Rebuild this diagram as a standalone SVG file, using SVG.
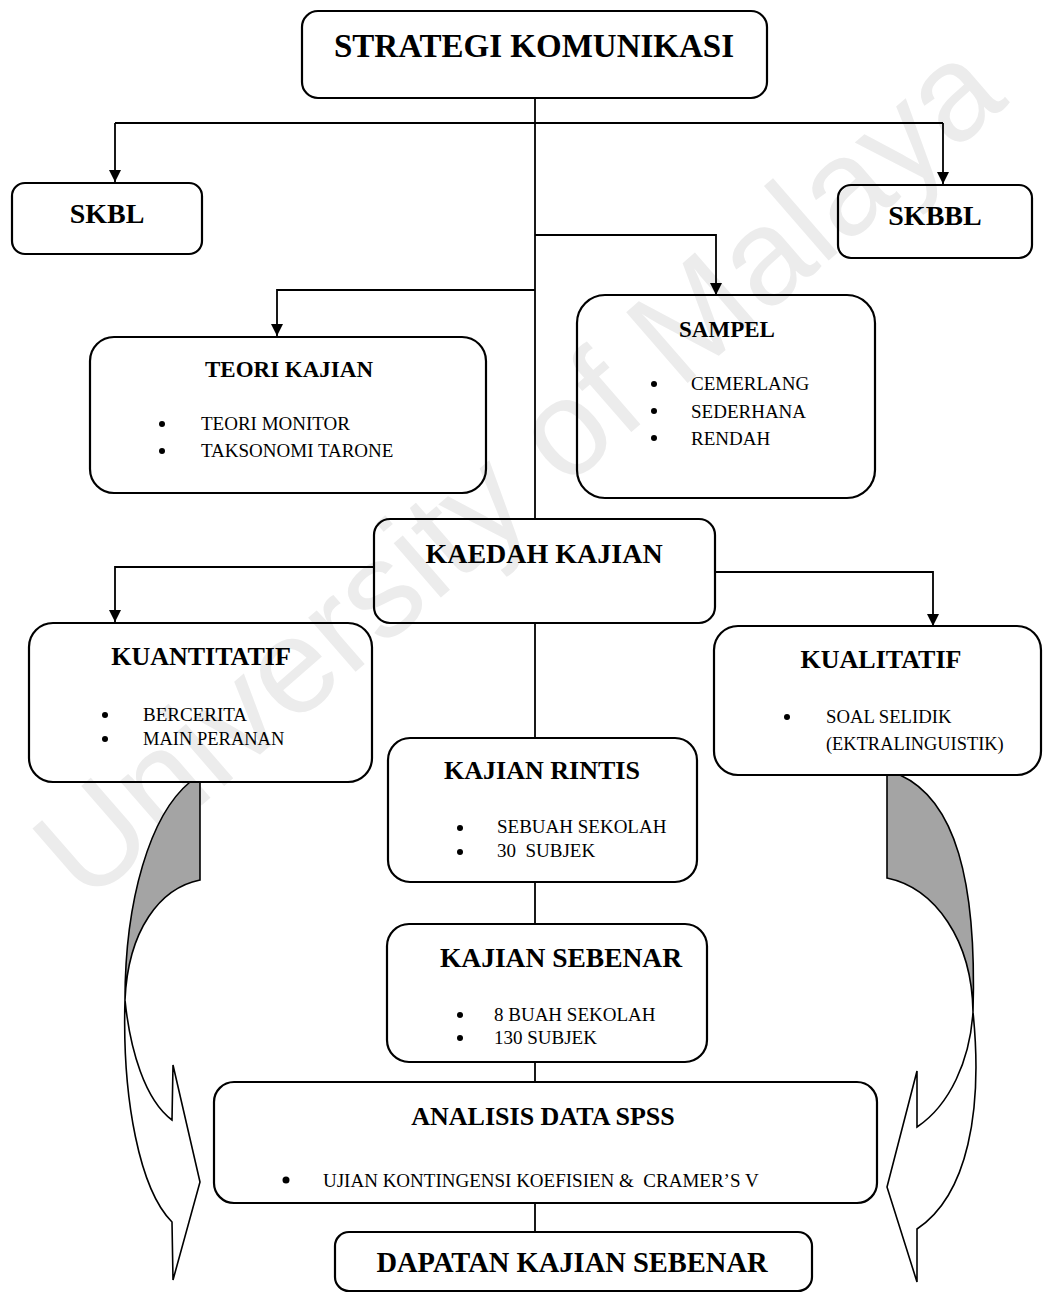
<svg xmlns="http://www.w3.org/2000/svg" width="1043" height="1295" viewBox="0 0 1043 1295">
<style>
.box{fill:none;stroke:#000;stroke-width:2.2}
.ln{fill:none;stroke:#000;stroke-width:1.8}
.t{font-family:"Liberation Serif","Times New Roman",serif;font-weight:bold;fill:#000;text-anchor:middle}
.b{font-family:"Liberation Serif","Times New Roman",serif;fill:#000}
.dot{fill:#000}
.wm{font-family:"Liberation Sans",Arial,sans-serif;font-size:136px;fill:#ececec}
.shade{fill:#a4a4a4;stroke:#000;stroke-width:1.6}
.band{fill:#fff;stroke:#000;stroke-width:1.6}
</style>
<defs>
<marker id="ah" viewBox="0 0 10 10" refX="10" refY="5" markerWidth="12" markerHeight="12" markerUnits="userSpaceOnUse" orient="auto">
<path d="M0,0 L10,5 L0,10 Z" fill="#000"/>
</marker>
</defs>
<rect width="1043" height="1295" fill="#fff"/>
<text class="wm" transform="translate(86,906) rotate(-41)">University of Malaya</text>

<g id="connectors">
<path class="ln" d="M535,98 V519"/>
<path class="ln" d="M535,623 V738"/>
<path class="ln" d="M535,882 V924"/>
<path class="ln" d="M535,1062 V1082"/>
<path class="ln" d="M535,1203 V1232"/>
<path class="ln" d="M115,123 H943"/>
<path class="ln" d="M115,123 V182" marker-end="url(#ah)"/>
<path class="ln" d="M943,123 V184" marker-end="url(#ah)"/>
<path class="ln" d="M535,235 H716 V295" marker-end="url(#ah)"/>
<path class="ln" d="M535,290 H277 V336" marker-end="url(#ah)"/>
<path class="ln" d="M374,567 H115 V622" marker-end="url(#ah)"/>
<path class="ln" d="M715,572 H933 V626" marker-end="url(#ah)"/>
</g>

<g id="arrow-left">
<path class="shade" d="M190,782 C150,815 125,900 125,1000 C128,930 160,888 200,880 L200,782 Z"/>
<path class="band" d="M125,1000 C130,1050 145,1100 172,1120 L173,1065 L200,1182 L173,1280 L172,1222 C140,1190 122,1100 125,1000 Z"/>
</g>
<g id="arrow-right">
<path class="shade" d="M887,775 L900,775 C955,800 977,880 973,1012 C972,940 935,888 887,878 Z"/>
<path class="band" d="M973,1012 C970,1060 950,1105 917,1127 L917,1071 L887,1187 L917,1282 L917,1229 C968,1195 983,1110 973,1012 Z"/>
</g>

<g id="strategi">
<rect class="box" x="302" y="11" width="465" height="87" rx="16"/>
<text class="t" x="534" y="57" font-size="33">STRATEGI KOMUNIKASI</text>
</g>
<g id="skbl">
<rect class="box" x="12" y="183" width="190" height="71" rx="13"/>
<text class="t" x="107" y="223" font-size="28">SKBL</text>
</g>
<g id="skbbl">
<rect class="box" x="838" y="185" width="194" height="73" rx="13"/>
<text class="t" x="935" y="225" font-size="28">SKBBL</text>
</g>
<g id="teori">
<rect class="box" x="90" y="337" width="396" height="156" rx="24"/>
<text class="t" x="289" y="377" font-size="23">TEORI KAJIAN</text>
<circle class="dot" cx="162" cy="424" r="3"/>
<circle class="dot" cx="162" cy="451" r="3"/>
<text class="b" x="201" y="430" font-size="19">TEORI MONITOR</text>
<text class="b" x="201" y="457" font-size="19">TAKSONOMI TARONE</text>
</g>
<g id="sampel">
<rect class="box" x="577" y="295" width="298" height="203" rx="28"/>
<text class="t" x="727" y="337" font-size="23">SAMPEL</text>
<circle class="dot" cx="654" cy="384" r="3"/>
<circle class="dot" cx="654" cy="411" r="3"/>
<circle class="dot" cx="654" cy="438" r="3"/>
<text class="b" x="691" y="390" font-size="19">CEMERLANG</text>
<text class="b" x="691" y="418" font-size="19">SEDERHANA</text>
<text class="b" x="691" y="445" font-size="19">RENDAH</text>
</g>
<g id="kaedah">
<rect class="box" x="374" y="519" width="341" height="104" rx="16"/>
<text class="t" x="544" y="563" font-size="28">KAEDAH KAJIAN</text>
</g>
<g id="kuantitatif">
<rect class="box" x="29" y="623" width="343" height="159" rx="24"/>
<text class="t" x="201" y="665" font-size="26">KUANTITATIF</text>
<circle class="dot" cx="105" cy="715" r="3"/>
<circle class="dot" cx="105" cy="739" r="3"/>
<text class="b" x="143" y="721" font-size="19">BERCERITA</text>
<text class="b" x="143" y="745" font-size="18.5">MAIN PERANAN</text>
</g>
<g id="kualitatif">
<rect class="box" x="714" y="626" width="327" height="149" rx="24"/>
<text class="t" x="881" y="668" font-size="26">KUALITATIF</text>
<circle class="dot" cx="787" cy="717" r="3"/>
<text class="b" x="826" y="723" font-size="18.7">SOAL SELIDIK</text>
<text class="b" x="826" y="750" font-size="18.4">(EKTRALINGUISTIK)</text>
</g>
<g id="rintis">
<rect class="box" x="388" y="738" width="309" height="144" rx="22"/>
<text class="t" x="542" y="779" font-size="26">KAJIAN RINTIS</text>
<circle class="dot" cx="460" cy="828" r="3"/>
<circle class="dot" cx="460" cy="852" r="3"/>
<text class="b" x="497" y="833" font-size="19">SEBUAH SEKOLAH</text>
<text class="b" x="497" y="857" font-size="19" xml:space="preserve">30  SUBJEK</text>
</g>
<g id="sebenar">
<rect class="box" x="387" y="924" width="320" height="138" rx="22"/>
<text class="t" x="561" y="967" font-size="27.5">KAJIAN SEBENAR</text>
<circle class="dot" cx="460" cy="1015" r="3"/>
<circle class="dot" cx="460" cy="1038" r="3"/>
<text class="b" x="494" y="1021" font-size="19">8 BUAH SEKOLAH</text>
<text class="b" x="494" y="1044" font-size="19">130 SUBJEK</text>
</g>
<g id="analisis">
<rect class="box" x="214" y="1082" width="663" height="121" rx="20"/>
<text class="t" x="543" y="1125" font-size="26">ANALISIS DATA SPSS</text>
<circle class="dot" cx="286" cy="1180" r="3.5"/>
<text class="b" x="323" y="1187" font-size="19" xml:space="preserve">UJIAN KONTINGENSI KOEFISIEN &amp;  CRAMER’S V</text>
</g>
<g id="dapatan">
<rect class="box" x="335" y="1232" width="477" height="59" rx="14"/>
<text class="t" x="572" y="1272" font-size="28.5">DAPATAN KAJIAN SEBENAR</text>
</g>
</svg>
